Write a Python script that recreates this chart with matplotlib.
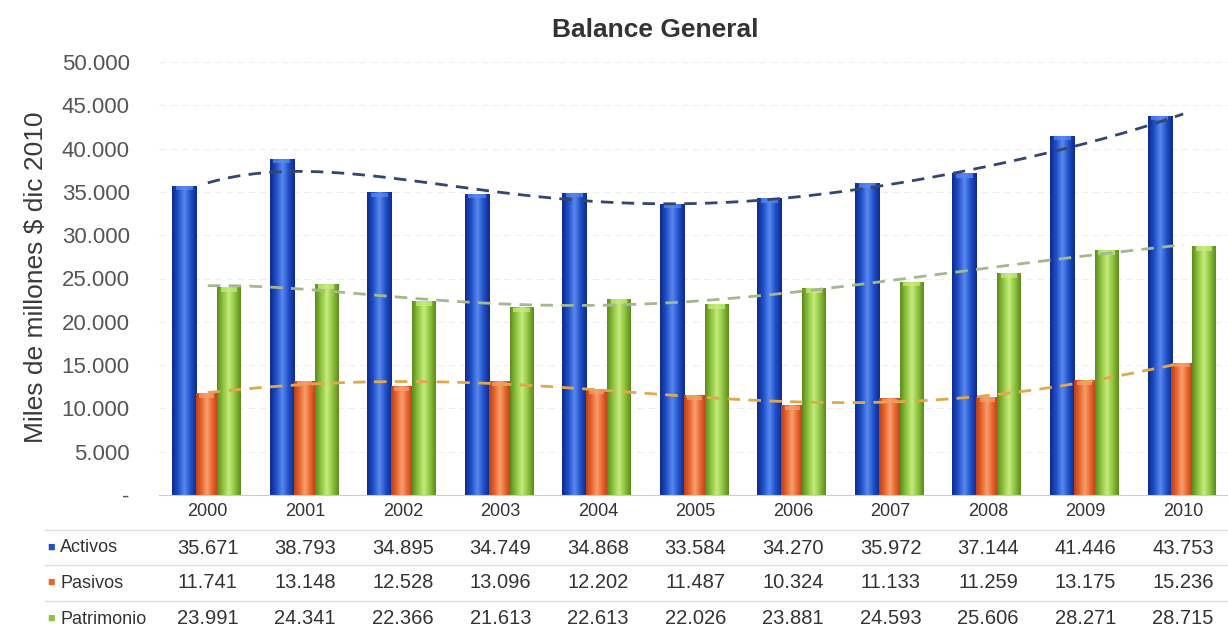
import numpy as np
import matplotlib
matplotlib.use("Agg")
import matplotlib.pyplot as plt
from matplotlib.colors import LinearSegmentedColormap
from matplotlib.transforms import blended_transform_factory

plt.rcParams["font.family"] = ["Liberation Sans", "DejaVu Sans"]

years = ["2000", "2001", "2002", "2003", "2004", "2005", "2006", "2007", "2008", "2009", "2010"]
activos = [35671, 38793, 34895, 34749, 34868, 33584, 34270, 35972, 37144, 41446, 43753]
pasivos = [11741, 13148, 12528, 13096, 12202, 11487, 10324, 11133, 11259, 13175, 15236]
patrimonio = [23991, 24341, 22366, 21613, 22613, 22026, 23881, 24593, 25606, 28271, 28715]
series_names = ["Activos", "Pasivos", "Patrimonio"]
yticks = [0, 5000, 10000, 15000, 20000, 25000, 30000, 35000, 40000, 45000, 50000]
ytick_labels = ["-", "5.000", "10.000", "15.000", "20.000", "25.000", "30.000",
                "35.000", "40.000", "45.000", "50.000"]


def fmt(v):
    return f"{v:,}".replace(",", ".")


# (dark edge, base, highlight) for the cylinder look
palette = {
    "Activos": ("#0f2a8a", "#1f4fc8", "#5a8af0"),
    "Pasivos": ("#b8401a", "#e8642c", "#f8a070"),
    "Patrimonio": ("#5e8a1c", "#8cc43c", "#c8ec80"),
}
trend_colors = {"Activos": "#33466e", "Pasivos": "#e0a84c", "Patrimonio": "#a3b890"}
offsets = {"Activos": -0.24, "Pasivos": -0.01, "Patrimonio": 0.215}
widths = {"Activos": 0.25, "Pasivos": 0.22, "Patrimonio": 0.24}
data = {"Activos": activos, "Pasivos": pasivos, "Patrimonio": patrimonio}

W, H = 1228, 630
fig = plt.figure(figsize=(W / 100, H / 100), dpi=100)
ax = fig.add_axes([159 / W, 1 - 495 / H, 1 - 159 / W, (495 - 62) / H])

x = np.arange(len(years))

# faint grid
for t in yticks[1:]:
    ax.axhline(t, color="#d8d8d8", lw=0.8, ls=(0, (6, 4)), alpha=0.4, zorder=0)

for name in series_names:
    dark, base, light = palette[name]
    cmap = LinearSegmentedColormap.from_list(name, [dark, base, light, base, dark])
    grad = np.linspace(0, 1, 64).reshape(1, -1)
    w = widths[name]
    for xi, v in zip(x, data[name]):
        x0 = xi + offsets[name] - w / 2
        ax.imshow(grad, cmap=cmap, extent=[x0, x0 + w, 0, v], aspect="auto",
                  origin="lower", zorder=2, interpolation="bicubic")
        # lighter top cap
        ax.fill_between([x0 + w * 0.15, x0 + w * 0.85], v - 500, v,
                        color=light, alpha=0.7, lw=0, zorder=3)

# polynomial trend lines
xs = np.linspace(0, len(years) - 1, 200)
for name in series_names:
    coef = np.polyfit(x, data[name], 5)
    ax.plot(xs, np.polyval(coef, xs), color=trend_colors[name], lw=2,
            ls=(0, (4.5, 3)), zorder=4)

ax.set_xlim(-0.5, 10.46)
ax.set_ylim(0, 50000)
ax.set_yticks(yticks)
ax.set_yticklabels(ytick_labels, fontsize=16, color="#555555")
ax.tick_params(axis="y", length=0, pad=21)
ax.set_xticks([])
for s in ["top", "right", "left"]:
    ax.spines[s].set_visible(False)
ax.spines["bottom"].set_color("#cccccc")

fig.text(36 / W, 1 - 277 / H, "Miles de millones $ dic 2010", rotation=90,
         fontsize=19, color="#3a3a3a", ha="center", va="center")
fig.text(655 / W, 1 - 30 / H, "Balance General", fontsize=19, fontweight="bold",
         color="#333333", ha="center", va="center")

# data table under the chart
tr = blended_transform_factory(ax.transData, fig.transFigure)
row_y = {"years": 1 - 512 / H, "Activos": 1 - 548 / H, "Pasivos": 1 - 583 / H,
         "Patrimonio": 1 - 619 / H}
for xi, yr in zip(x, years):
    ax.text(xi, row_y["years"], yr, transform=tr, ha="center", va="center",
            fontsize=13, color="#333333", clip_on=False)
for name in series_names:
    yy = row_y[name]
    fig.text(47 / W, yy, "\u25a0", color=palette[name][1], fontsize=9,
             ha="left", va="center")
    fig.text(60 / W, yy, name, color="#333333", fontsize=13, ha="left", va="center")
    for xi, v in zip(x, data[name]):
        ax.text(xi, yy, fmt(v), transform=tr, ha="center", va="center",
                fontsize=14.5, color="#333333", clip_on=False)

for ly in [530, 565, 601]:
    fig.add_artist(plt.Line2D([45 / W, 1], [1 - ly / H, 1 - ly / H],
                              color="#dddddd", lw=1))

fig.savefig("out.png", dpi=100, facecolor="white")
